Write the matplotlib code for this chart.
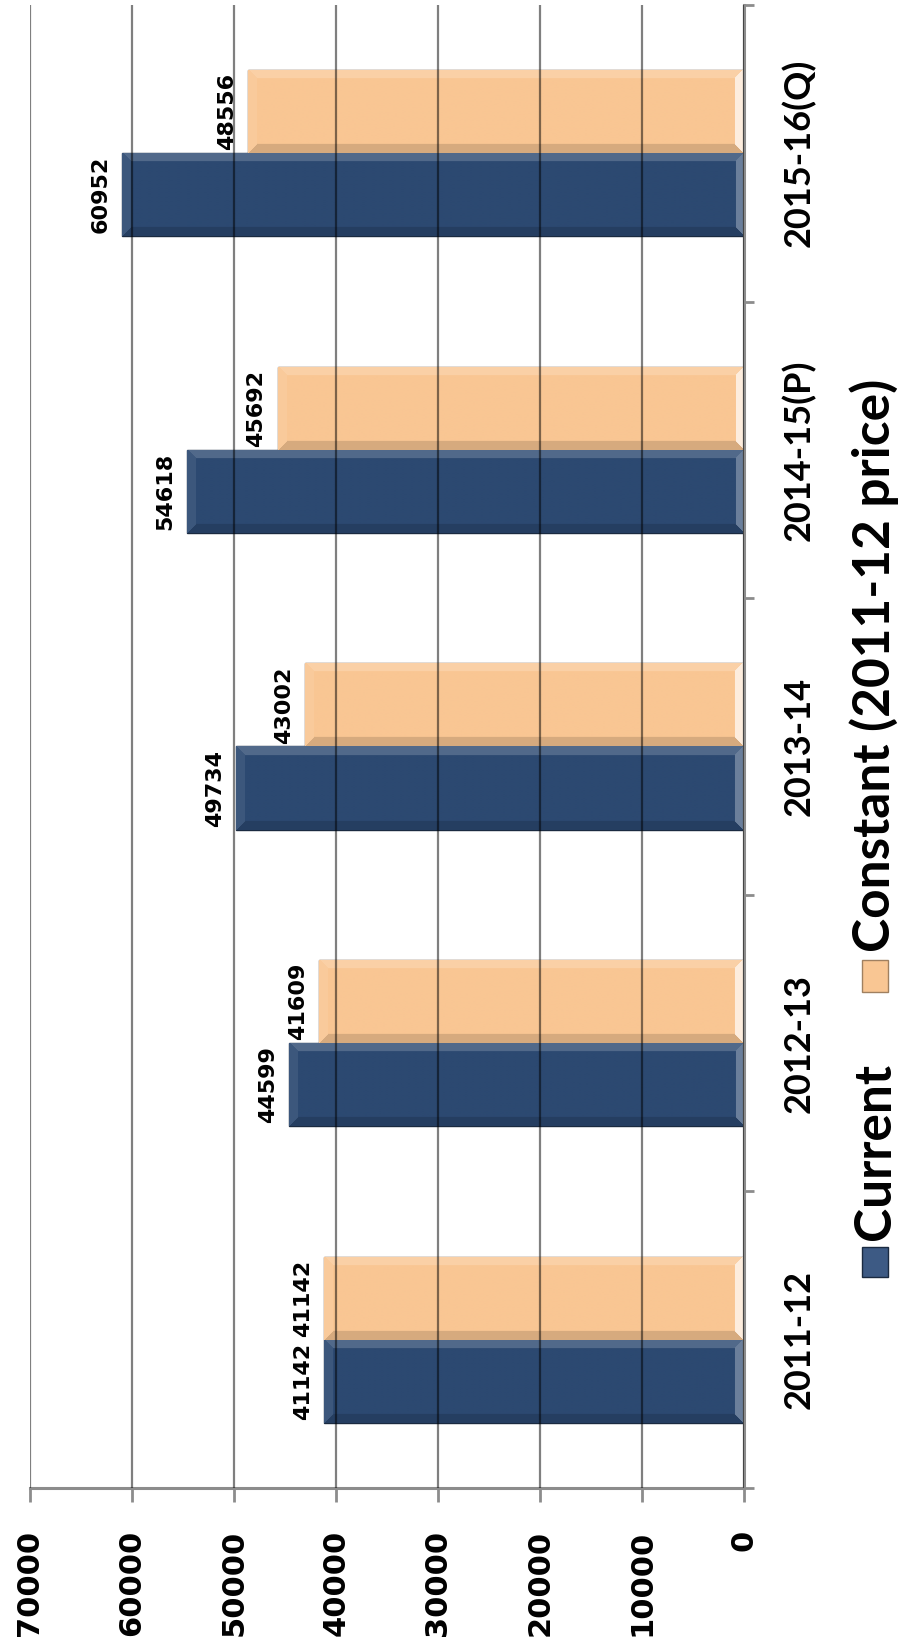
import numpy as np
import matplotlib
matplotlib.use("Agg")
import matplotlib.pyplot as plt
from matplotlib.patches import Rectangle
from matplotlib.colors import to_rgb
import matplotlib.transforms as mtransforms

# data
years = ['2011-12', '2012-13', '2013-14', '2014-15(P)', '2015-16(Q)']
current = [41142, 44599, 49734, 54618, 60952]
constant = [41142, 41609, 43002, 45692, 48556]
value_ticks = [0, 10000, 20000, 30000, 40000, 50000, 60000, 70000]

BLUE = '#2C4971'
ORANGE = '#F9C693'
GRID = '#8C8C8C'


def bevel(rgb, nx, ny, b=9, axis_light=0.55):
    """Pixel-sized RGB array imitating Excel's bevelled bar fill.
    Column 0 is the value end of the bar, the last column touches the axis."""
    base = np.array(to_rgb(rgb))
    yy, xx = np.mgrid[0:ny, 0:nx]
    d_top, d_bot = yy, ny - 1 - yy
    d_end, d_axis = xx, nx - 1 - xx
    shade = np.zeros((ny, nx))
    dmin = np.minimum.reduce([d_top, d_bot, d_end, d_axis])
    edge = dmin < b
    shade = np.where(edge & (dmin == d_top), 0.18, shade)
    shade = np.where(edge & (dmin == d_bot), -0.14, shade)
    shade = np.where(edge & (dmin == d_end), 0.08, shade)
    shade = np.where(edge & (dmin == d_axis), axis_light, shade)
    s = shade[..., None]
    out = np.where(s > 0, base + (1 - base) * s, base * (1 + s))
    return np.clip(out, 0, 1)


fig = plt.figure(figsize=(8.98, 16.51), dpi=100)
ax = fig.add_axes([29.5 / 898, 163 / 1651, (744 - 29.5) / 898, (1488 - 5) / 1651])

y = np.arange(len(years))
h = 0.28
bars_cur = ax.barh(y - h / 2, current, height=h, color=BLUE, edgecolor='#1a2a40', linewidth=1.0)
bars_con = ax.barh(y + h / 2, constant, height=h, color=ORANGE, edgecolor='#6a4a30', linewidth=1.0)

ax.set_xlim(70000, 0)
ax.set_ylim(-0.5, len(years) - 0.5)

# bevel fill, one image per bar, sized in pixels
px_per_unit = (744 - 29.5) / 70000
px_per_cat = (1488 - 5) / len(years)
for bars, col, light in [(bars_cur, BLUE, 0.3), (bars_con, ORANGE, 0.7)]:
    for b in bars:
        x0, y0, w, hh = b.get_x(), b.get_y(), b.get_width(), b.get_height()
        img = bevel(col, int(w * px_per_unit), int(hh * px_per_cat), axis_light=light)
        im = ax.imshow(img, extent=(x0 + w, x0, y0, y0 + hh), aspect='auto',
                       origin='upper', zorder=1.5, interpolation='bilinear')
        im.set_clip_path(b)

# gridlines sit on top of the bars, like the source
ax.set_xticks(value_ticks)
ax.set_xticklabels([str(v) for v in value_ticks])
ax.set_axisbelow(False)
ax.grid(axis='x', color='black', alpha=0.5, linewidth=1.6)

for s in ['top', 'left']:
    ax.spines[s].set_visible(False)
for s in ['right', 'bottom']:
    ax.spines[s].set_color(GRID)
    ax.spines[s].set_linewidth(2.2)

ax.tick_params(axis='x', direction='out', length=10, width=2, color=GRID,
               labelrotation=90, labelsize=22, pad=20)
for lab in ax.get_xticklabels():
    lab.set_fontweight('bold')
    lab.set_family('DejaVu Sans')

ax.yaxis.tick_right()
ax.set_yticks(np.arange(-0.5, len(years), 1.0))
ax.set_yticklabels([])
ax.tick_params(axis='y', direction='out', length=7, width=2, color=GRID)

# category labels (rotated, right of the axis)
trans = mtransforms.blended_transform_factory(ax.transAxes, ax.transData)
for yi, lab in zip(y, years):
    ax.text(1.077, yi, lab, transform=trans, rotation=90, ha='center', va='center',
            fontsize=26, fontweight='bold', family='Lato')

# value labels at bar ends
for yi, v in zip(y, current):
    ax.annotate(str(v), (v, yi - h / 2), xytext=(-8, 0), textcoords='offset points',
                rotation=90, ha='right', va='center', fontsize=16, fontweight='bold',
                family='DejaVu Sans')
for yi, v in zip(y, constant):
    ax.annotate(str(v), (v, yi + h / 2), xytext=(-8, 0), textcoords='offset points',
                rotation=90, ha='right', va='center', fontsize=16, fontweight='bold',
                family='DejaVu Sans')

# legend, drawn by hand because it is rotated
W, H = 898, 1651
fig.patches.append(Rectangle((862 / W, 1 - 1277 / H), 26 / W, 30 / H, transform=fig.transFigure,
                             facecolor='#3d5a84', edgecolor='#1a2a40', lw=1))
fig.text(899 / W, 1 - 1240 / H, 'Current', rotation=90, ha='right', va='bottom',
         fontsize=37, fontweight='bold', family='Lato')
fig.patches.append(Rectangle((862 / W, 1 - 992 / H), 26 / W, 32 / H, transform=fig.transFigure,
                             facecolor=ORANGE, edgecolor='#a08060', lw=1))
fig.text(899 / W, 1 - 952 / H, 'Constant (2011-12 price)', rotation=90, ha='right', va='bottom',
         fontsize=37, fontweight='bold', family='Lato')

fig.savefig('out.png', dpi=100)
